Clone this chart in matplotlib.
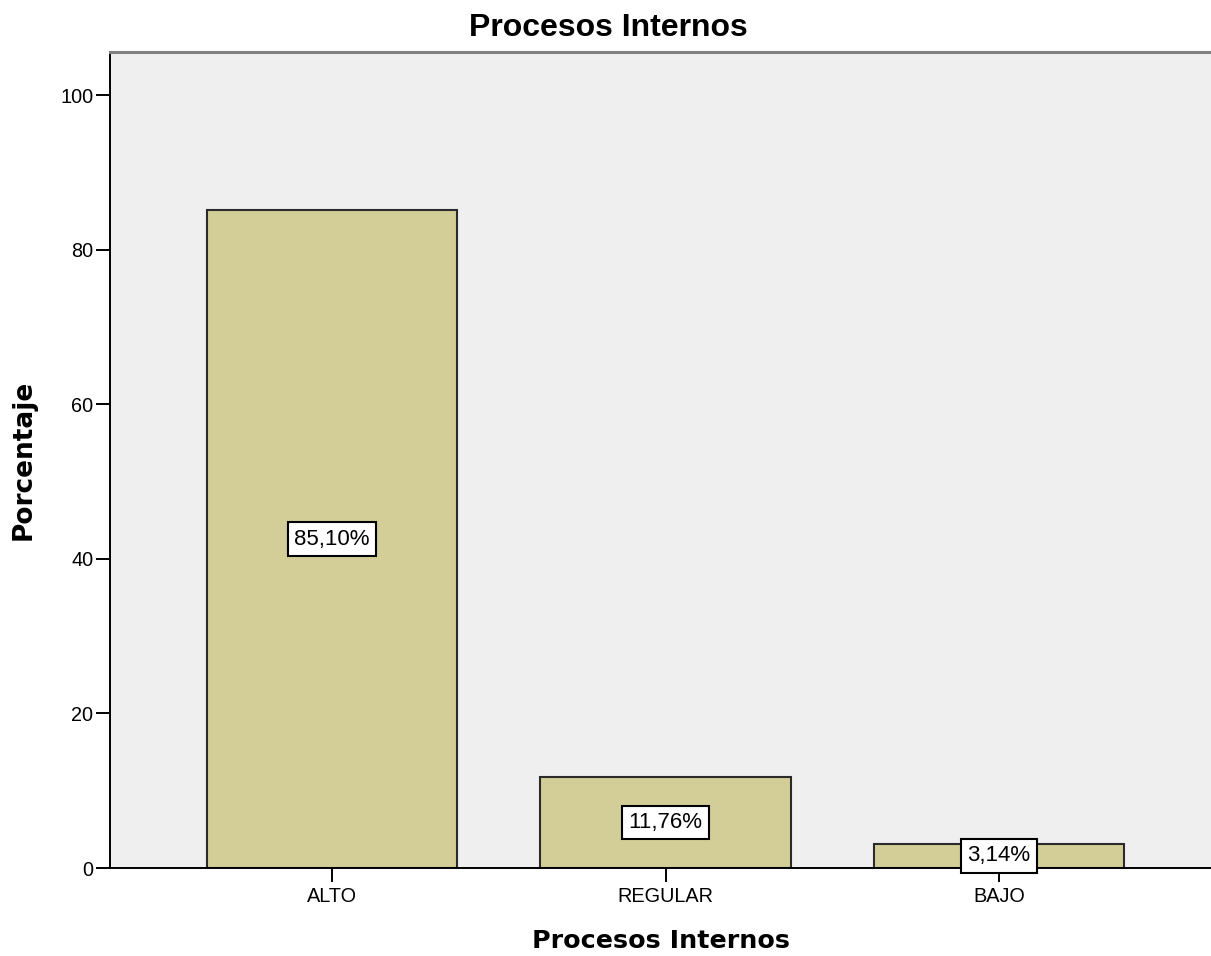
import matplotlib
matplotlib.use("Agg")
import matplotlib.pyplot as plt
from matplotlib import font_manager as fm

categories = ["ALTO", "REGULAR", "BAJO"]
percentages = [85.10, 11.76, 3.14]
value_labels = ["85,10%", "11,76%", "3,14%"]
y_ticks = [0, 20, 40, 60, 80, 100]


def find_font(name):
    for f in fm.findSystemFonts():
        if f.split("/")[-1].lower() == name.lower():
            return f
    return None


reg_path = find_font("LiberationSans-Regular.ttf")
bold_path = find_font("LiberationSans-Bold.ttf")


def fp(path, size, fallback_weight="normal"):
    if path:
        return fm.FontProperties(fname=path, size=size)
    return fm.FontProperties(family="DejaVu Sans", size=size, weight=fallback_weight)


fig = plt.figure(figsize=(12.11, 9.56), dpi=100)
ax = fig.add_axes([110/1211, 1 - 868/956, 1 - 110/1211, (868 - 52)/956])
ax.set_facecolor("#EFEFEF")

x = list(range(len(categories)))
ax.bar(x, percentages, width=0.75, color="#D3CE97", edgecolor="#2b2b2b", linewidth=1.5, zorder=2)

for xi, v, lab in zip(x, percentages, value_labels):
    ax.text(xi, v / 2, lab, ha="center", va="center", fontproperties=fp(reg_path, 16),
            color="black", zorder=4,
            bbox=dict(boxstyle="square,pad=0.28", facecolor="white", edgecolor="black", linewidth=1.5))

ax.set_xlim(-0.666, 2.636)
ax.set_ylim(0, 105.6)
ax.set_yticks(y_ticks)
ax.set_xticks(x)
ax.set_yticklabels([str(t) for t in y_ticks], fontproperties=fp(reg_path, 14.3))
ax.set_xticklabels(categories, fontproperties=fp(reg_path, 14.3))
ax.tick_params(axis="both", direction="out", length=10, width=1.4, pad=2, color="black")
ax.tick_params(axis="x", pad=4)

for s in ["left", "bottom"]:
    ax.spines[s].set_color("black")
    ax.spines[s].set_linewidth(1.4)
ax.spines["top"].set_color("#808080")
ax.spines["top"].set_linewidth(2.2)
ax.spines["right"].set_visible(False)

fig.text(608/1211, 1 - 28/956, "Procesos Internos", ha="center", va="center",
         fontproperties=fp(bold_path, 23, "bold"))
ax.set_xlabel("Procesos Internos", fontsize=18.3, fontweight="bold", family="DejaVu Sans", labelpad=16)
ax.set_ylabel("Porcentaje", fontsize=19, fontweight="bold", family="DejaVu Sans", labelpad=17)

fig.savefig("out.png", dpi=100)
